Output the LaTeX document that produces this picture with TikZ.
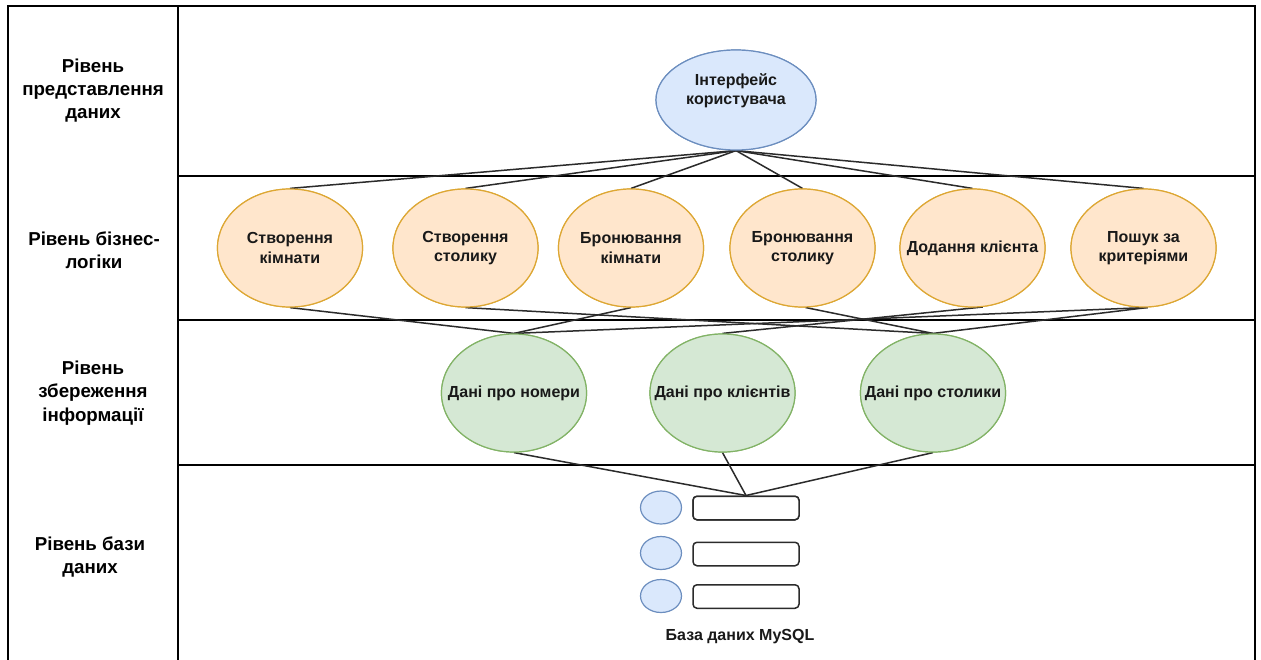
\documentclass[tikz,border=0pt]{standalone}
\usepackage{fontspec}
\setmainfont{Liberation Sans}
\usetikzlibrary{shapes.geometric}

\definecolor{uifill}{HTML}{DAE8FC}
\definecolor{uiline}{HTML}{6C8EBF}
\definecolor{bizfill}{HTML}{FFE6CC}
\definecolor{bizline}{HTML}{DDA733}
\definecolor{storefill}{HTML}{D5E8D4}
\definecolor{storeline}{HTML}{82B366}
\definecolor{wire}{HTML}{2B2B2B}

\tikzset{
  frameline/.style={draw=black, line width=1.3pt},
  wireline/.style={draw=wire, line width=1.5pt},
  oval/.style={ellipse, inner sep=0pt, line width=1.2pt},
  uioval/.style={oval, draw=uiline, fill=uifill, minimum width=160pt, minimum height=100pt},
  bizoval/.style={oval, draw=bizline, fill=bizfill, minimum width=145pt, minimum height=118pt},
  storeoval/.style={oval, draw=storeline, fill=storefill, minimum width=145pt, minimum height=118pt},
  dbdot/.style={oval, draw=uiline, fill=uifill, minimum width=41pt, minimum height=33pt},
  dbrow/.style={draw=wire, fill=white, line width=1.5pt, rounded corners=4pt,
    minimum width=106pt, minimum height=23.5pt, inner sep=0pt},
  caption/.style={align=center, inner sep=0pt, text=black!90,
    font=\bfseries\fontsize{16}{19.2}\selectfont},
  layer/.style={align=center, inner sep=0pt, text=black,
    font=\bfseries\fontsize{18.7}{23.4}\selectfont}
}

\begin{document}
\begin{tikzpicture}[x=1pt, y=-1pt]
\useasboundingbox (0,0) rectangle (1261,659);
\fill[white] (0,0) rectangle (1261,659);

% table frame and layer separators
\draw[frameline] (8,662) -- (8,6) -- (1255,6) -- (1255,662);
\draw[frameline] (178,6) -- (178,662);
\draw[frameline] (178,176) -- (1255,176);
\draw[frameline] (178,320) -- (1255,320);
\draw[frameline] (178,465) -- (1255,465);

% layer names
\node[layer] (l1) at (93,90.5) {Рівень\\представлення\\даних};
\node[layer] (l2) at (94,250) {Рівень бізнес-\\логіки};
\node[layer] (l3) at (93,393) {Рівень\\збереження\\інформації};
\node[layer] (l4) at (90,557) {Рівень бази\\даних};

% shapes (text added afterwards)
\node[uioval] (ui) at (736,100) {};

\node[bizoval] (o1) at (290,248) {};
\node[bizoval] (o2) at (465.5,248) {};
\node[bizoval] (o3) at (631,248) {};
\node[bizoval] (o4) at (802.5,248) {};
\node[bizoval] (o5) at (972.5,248) {};
\node[bizoval] (o6) at (1143.5,248) {};

\node[storeoval] (g1) at (514,393) {};
\node[storeoval] (g2) at (722.5,393) {};
\node[storeoval] (g3) at (933,393) {};

\node[dbrow] (r1) at (746,508) {};
\node[dbrow] (r2) at (746,554) {};
\node[dbrow] (r3) at (746,596.5) {};
\node[dbdot] (c1) at (661,507.5) {};
\node[dbdot] (c2) at (661,553) {};
\node[dbdot] (c3) at (661,596) {};

% connectors
\foreach \o in {o1,o2,o3,o4,o5,o6}
  \draw[wireline] (ui.south) -- (\o.north);

\draw[wireline] (o1.south) -- (g1.north);
\draw[wireline] (o2.south) -- (g3.north);
\draw[wireline] (o3.south) -- (g1.north);
\draw[wireline] (o4.-87) -- (g3.north);
\draw[wireline] (o5.-80) -- (g2.north);
\draw[wireline] (o6.-86) -- (g1.north);
\draw[wireline] (o6.-86) -- (g3.north);

\draw[wireline] (g1.south) -- (r1.north);
\draw[wireline] (g2.south) -- (r1.north);
\draw[wireline] (g3.south) -- (r1.north);

% redraw the ovals over the connector ends
\node[uioval] at (ui) {};
\foreach \o in {o1,o2,o3,o4,o5,o6} \node[bizoval] at (\o) {};
\foreach \g in {g1,g2,g3} \node[storeoval] at (\g) {};
\node[dbrow] at (r1) {};

% texts
\node[caption] (tui) at (736,91) {Інтерфейс\\користувача};
\node[caption] (t1) at (o1) {Створення\\кімнати};
\node[caption] (t2) at (o2) {Створення\\столику};
\node[caption] (t3) at (o3) {Бронювання\\кімнати};
\node[caption] (t4) at (o4) {Бронювання\\столику};
\node[caption] (t5) at (o5) {Додання клієнта};
\node[caption] (t6) at (o6) {Пошук за\\критеріями};
\node[caption] (t7) at (g1) {Дані про номери};
\node[caption] (t8) at (g2) {Дані про клієнтів};
\node[caption] (t9) at (g3) {Дані про столики};
\node[caption] (tdb) at (740,637) {База даних MySQL};
\end{tikzpicture}
\end{document}
